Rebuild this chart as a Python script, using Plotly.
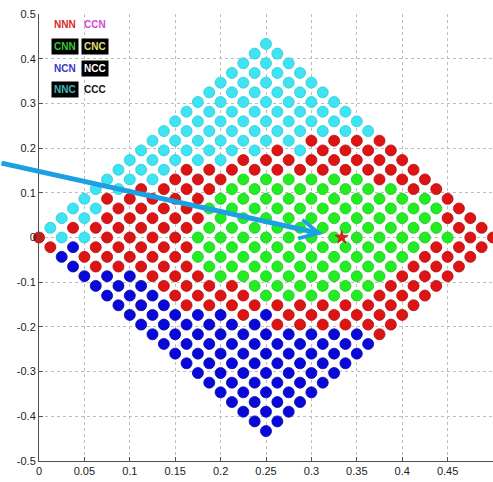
import plotly.graph_objects as go

# lattice geometry (triangular lattice inside the diamond)
step_x = 0.0125        # half horizontal spacing between neighbours
step_y = 0.0216506     # vertical spacing between rows
row_k = list(range(20, -21, -1))   # row index, top to bottom

# class of every dot, row by row (left to right)
# C = cyan, R = red, G = green, B = blue
row_classes = [
    "C",
    "CC",
    "CCC",
    "CCCC",
    "CCCCC",
    "CCCCCC",
    "CCCCCCC",
    "CCCCCCCC",
    "CCCCCCCCC",
    "CCCCCCCCCC",
    "CCCCCCCRRRR",
    "CCCCCCRCRRRR",
    "CCCCCRRRRRRRR",
    "CCCRRRRRRRRRRR",
    "CCCRRRGGGGGGRRR",
    "CCRRRRGGGGGGGGRR",
    "CRRRRRGGGGGGGGGGR",
    "CCRRRRGGGGGGGGGGGR",
    "CCRRRRRGGGGGGGGGGRR",
    "CRRRRRRGGGGGGGGGGGRR",
    "RCCRRRRGGGGGGGGGGGGRR",
    "RBRRRRRGGGGGGGGGGRRR",
    "BRRRRRGGGGGGGGGGRRR",
    "BRRRRRGGGGGGGGGRRR",
    "BBBRRRGGGGGGGGRRR",
    "BBBRRRRGGGGGGRRR",
    "BBBRRRRGGGGGRRR",
    "BBBRRRRRRRRRRR",
    "BBBBBRBRRRRRR",
    "BBBBBBRRRRRR",
    "BBBBBBBBBBR",
    "BBBBBBBBBB",
    "BBBBBBBBB",
    "BBBBBBBB",
    "BBBBBBB",
    "BBBBBB",
    "BBBBB",
    "BBBB",
    "BBB",
    "BB",
    "B",
]

class_colors = {"C": "#3ee4f2", "R": "#dc1414", "G": "#22ec22", "B": "#0808d8"}
class_edges = {"C": "#2cc8d8", "R": "#b80c0c", "G": "#18c818", "B": "#0606a8"}

star_x = [1 / 3]
star_y = [0.0]

legend_labels = ["NNN", "CCN", "CNN", "CNC", "NCN", "NCC", "NNC", "CCC"]
legend_fg = ["#d42a2a", "#d048d0", "#38c838", "#e0e070", "#3838c0", "#ffffff", "#40b8b8", "#111111"]
legend_bg = [None, None, "#000000", "#000000", None, "#000000", "#000000", None]

x_ticks = [0, 0.05, 0.1, 0.15, 0.2, 0.25, 0.3, 0.35, 0.4, 0.45, 0.5]
x_ticktext = ["0", "0.05", "0.1", "0.15", "0.2", "0.25", "0.3", "0.35", "0.4", "0.45", "0.5"]
y_ticks = [-0.5, -0.4, -0.3, -0.2, -0.1, 0, 0.1, 0.2, 0.3, 0.4, 0.5]
y_ticktext = ["-0.5", "-0.4", "-0.3", "-0.2", "-0.1", "0", "0.1", "0.2", "0.3", "0.4", "0.5"]

pts = {c: ([], []) for c in class_colors}
for k, cls in zip(row_k, row_classes):
    jmin = max(0, -k)
    for n, c in enumerate(cls):
        j = jmin + n
        m = 2 * j + k
        pts[c][0].append(step_x * m)
        pts[c][1].append(step_y * k)

fig = go.Figure()
for c in ["C", "R", "G", "B"]:
    fig.add_trace(go.Scatter(
        x=pts[c][0], y=pts[c][1], mode="markers", cliponaxis=False,
        marker=dict(size=11, color=class_colors[c], line=dict(width=0.8, color=class_edges[c])),
        showlegend=False, hoverinfo="skip"))

fig.add_trace(go.Scatter(x=star_x, y=star_y, mode="markers",
                         marker=dict(symbol="star", size=10, color="#e02020",
                                     line=dict(width=0.5, color="#a00000")),
                         showlegend=False, hoverinfo="skip"))

# legend-like label block
lx = [0.0286, 0.0617]
ly = [0.476, 0.427, 0.378, 0.331]
for idx, (lab, fg, bg) in enumerate(zip(legend_labels, legend_fg, legend_bg)):
    fig.add_annotation(x=lx[idx % 2], y=ly[idx // 2], xref="x", yref="y",
                       text="<b>" + lab + "</b>", showarrow=False,
                       font=dict(family="Arial", size=10, color=fg),
                       bgcolor=bg if bg else "rgba(0,0,0,0)", borderpad=2)

# arrow pointing to the star
fig.add_annotation(x=0.3128, y=0.0076, xref="x", yref="y",
                   ax=-0.043, ay=0.167, axref="x", ayref="y",
                   text="", showarrow=True, arrowhead=5, arrowsize=0.75,
                   arrowwidth=5, arrowcolor="#1ba1e2", standoff=0)

axis_common = dict(showgrid=True, gridcolor="#bdbdbd", griddash="dot", gridwidth=1,
                   zeroline=False, showline=True, linecolor="#505050", linewidth=1,
                   ticks="inside", ticklen=4, tickcolor="#505050",
                   tickfont=dict(family="Arial", size=11, color="#222222"))

fig.update_xaxes(range=[0, 0.5], tickvals=x_ticks, ticktext=x_ticktext, **axis_common)
fig.update_yaxes(range=[-0.5, 0.5], tickvals=y_ticks, ticktext=y_ticktext, **axis_common)

fig.update_layout(width=493, height=482, margin=dict(l=39, r=0, t=14, b=21),
                  paper_bgcolor="white", plot_bgcolor="white")

fig.write_html("out.html", config={"displayModeBar": False},
               post_script="document.body.style.margin='0';document.body.style.overflow='hidden';")
